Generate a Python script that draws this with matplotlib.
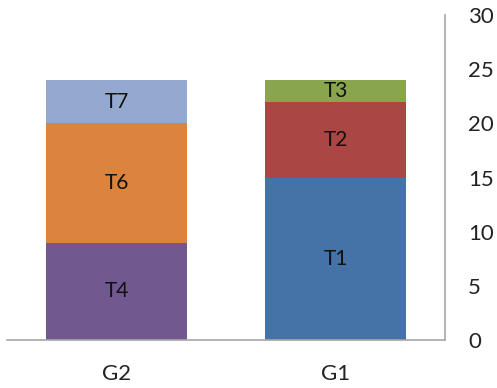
import matplotlib
matplotlib.use("Agg")
import matplotlib.pyplot as plt

plt.rcParams["font.family"] = ["Lato", "DejaVu Sans"]

groups = ["G2", "G1"]
# series per stack level: (name, values for G2, G1)
bottom_names = ["T4", "T1"]
bottom_vals = [9, 15]
mid_names = ["T6", "T2"]
mid_vals = [11, 7]
top_names = ["T7", "T3"]
top_vals = [4, 2]

bottom_colors = ["#71588F", "#4572A7"]
mid_colors = ["#DB843D", "#AA4643"]
top_colors = ["#93A9CF", "#89A54E"]

fig = plt.figure(figsize=(4.97, 3.88), dpi=100)
ax = fig.add_axes([7 / 497, 48 / 388, 438 / 497, 325 / 388])

x = range(len(groups))
w = 0.643
base = [0] * len(groups)
for vals, names, cols in [(bottom_vals, bottom_names, bottom_colors),
                          (mid_vals, mid_names, mid_colors),
                          (top_vals, top_names, top_colors)]:
    bars = ax.bar(x, vals, w, bottom=base, color=cols)
    for b, n in zip(bars, names):
        ax.text(b.get_x() + b.get_width() / 2, b.get_y() + b.get_height() / 2,
                n, ha="center", va="center", fontsize=15, color="#111111")
    base = [a + v for a, v in zip(base, vals)]

ax.set_xlim(-0.5, 1.5)
ax.set_ylim(0, 30)
ax.set_xticks(list(x))
ax.set_xticklabels(groups)
ax.set_yticks(range(0, 31, 5))
ax.yaxis.tick_right()
for s in ["left", "top"]:
    ax.spines[s].set_visible(False)
for s in ["right", "bottom"]:
    ax.spines[s].set_color("#A6A6A6")
    ax.spines[s].set_linewidth(1.2)
ax.tick_params(axis="y", length=0, pad=16.5, labelsize=16, colors="#222222")
ax.tick_params(axis="x", length=0, pad=17, labelsize=16, colors="#222222")
for t in ax.get_yticklabels():
    t.set_ha("left")

fig.savefig("out.png", dpi=100)
